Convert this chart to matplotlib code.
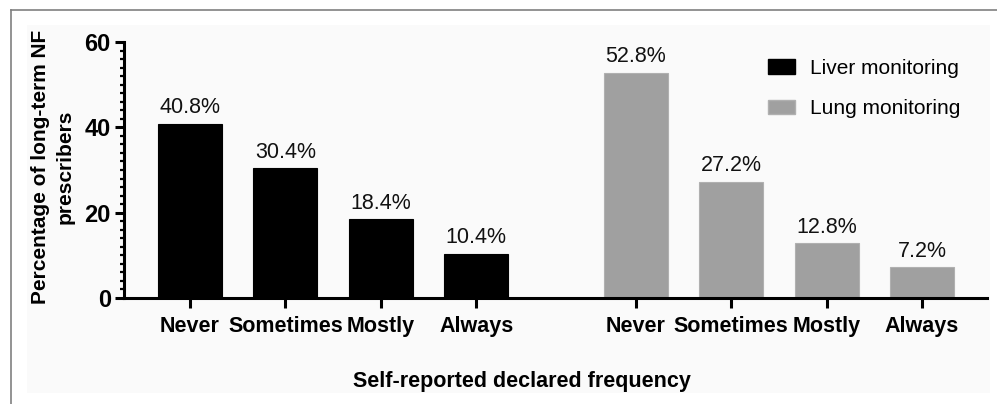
import matplotlib
matplotlib.use("Agg")
import matplotlib.pyplot as plt
from matplotlib.patches import Rectangle, Patch
from matplotlib.lines import Line2D
from matplotlib.ticker import MultipleLocator

plt.rcParams['font.family'] = ['Liberation Sans', 'DejaVu Sans']

categories = ["Never", "Sometimes", "Mostly", "Always"]
liver = [40.8, 30.4, 18.4, 10.4]
lung = [52.8, 27.2, 12.8, 7.2]
series_names = ["Liver monitoring", "Lung monitoring"]
liver_pos = [0, 1, 2, 3]
lung_pos = [4.67, 5.67, 6.67, 7.67]

W, H = 997, 404
fig = plt.figure(figsize=(W / 100, H / 100), dpi=100)
fig.patch.set_facecolor('white')

# light panel background
fig.patches.append(Rectangle((27 / W, 1 - 393 / H), (990 - 27) / W, (393 - 25) / H,
                             transform=fig.transFigure, facecolor='#fafafa',
                             edgecolor='none', zorder=-10))
# frame lines (top and left)
fig.add_artist(Line2D([11 / W, 1], [1 - 9.5 / H, 1 - 9.5 / H], transform=fig.transFigure,
                      color='#808080', lw=1.2, zorder=-5))
fig.add_artist(Line2D([11 / W, 11 / W], [0, 1 - 9.5 / H], transform=fig.transFigure,
                      color='#808080', lw=1.2, zorder=-5))

ax = fig.add_axes([124 / W, 1 - 298 / H, (987 - 124) / W, (298 - 42) / H])
ax.set_facecolor('none')
ax.set_zorder(1)

bw = 0.67
b1 = ax.bar(liver_pos, liver, width=bw, color='black', edgecolor='black', lw=0.8,
            label=series_names[0], zorder=2)
b2 = ax.bar(lung_pos, lung, width=bw, color='#a0a0a0', edgecolor='#b0b0b0', lw=0.8,
            label=series_names[1], zorder=2)

for pos, vals in ((liver_pos, liver), (lung_pos, lung)):
    for x, v in zip(pos, vals):
        ax.annotate(f"{v}%", (x, v), xytext=(0, 4), textcoords='offset points',
                    ha='center', va='bottom', fontsize=15.5, color='#111111')

ax.set_xlim(-0.69, 8.35)
ax.set_ylim(0, 60)
ax.set_xticks(liver_pos + lung_pos)
ax.set_xticklabels(categories + categories, fontsize=15.5, fontweight='bold')
ax.set_yticks([0, 20, 40, 60])
ax.set_yticklabels(['0', '20', '40', '60'], fontsize=17, fontweight='bold')
ax.yaxis.set_minor_locator(MultipleLocator(2))

for s in ['top', 'right']:
    ax.spines[s].set_visible(False)
for s in ['left', 'bottom']:
    ax.spines[s].set_linewidth(2.2)
    ax.spines[s].set_color('black')

ax.tick_params(axis='x', which='major', length=7, width=2.2, pad=6)
ax.tick_params(axis='y', which='major', length=6.5, width=2.2, pad=3)
ax.tick_params(axis='y', which='minor', length=3, width=1.6)

fig.text(53 / W, 1 - 167 / H, "Percentage of long-term NF\nprescribers", rotation=90,
         ha='center', va='center', fontsize=15, fontweight='bold', linespacing=1.4)
fig.text(522 / W, 1 - 382 / H, "Self-reported declared frequency", ha='center',
         va='center', fontsize=15.5, fontweight='bold')

handles = [Patch(facecolor='black', edgecolor='black'),
           Patch(facecolor='#a0a0a0', edgecolor='#b0b0b0')]
fig.legend(handles, series_names, loc='upper left',
           bbox_to_anchor=(753 / W, 1 - 44 / H), frameon=False, fontsize=15,
           handlelength=1.3, handleheight=0.7, handletextpad=0.75, labelspacing=1.04,
           borderpad=0.2)

fig.savefig("out.png", dpi=100)
